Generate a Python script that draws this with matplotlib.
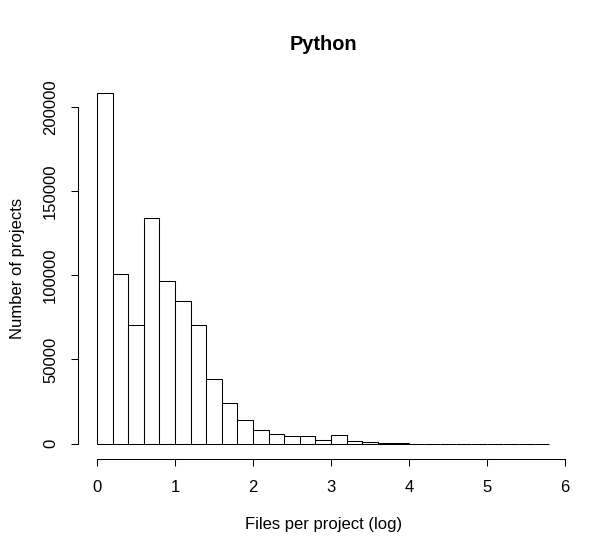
import matplotlib
matplotlib.use("Agg")
import matplotlib.pyplot as plt
import numpy as np

bin_edges = [round(0.2 * i, 1) for i in range(30)]
counts = [208300, 100700, 70500, 133800, 96600, 84900, 70300, 38500, 24300,
          13900, 8200, 5800, 4700, 4700, 2400, 4900, 1400, 700, 300, 150,
          80, 50, 30, 20, 15, 10, 8, 5, 3]
xticks = [0, 1, 2, 3, 4, 5, 6]
yticks = [0, 50000, 100000, 150000, 200000]

plt.rcParams['font.family'] = ['Liberation Sans', 'DejaVu Sans']

fig = plt.figure(figsize=(6.08, 5.57), dpi=100)
ax = fig.add_axes([0.1298, 0.1783, 0.9334 - 0.1298, 0.8587 - 0.1783])

left = np.array(bin_edges[:-1])
widths = np.diff(bin_edges)
ax.bar(left, counts, width=widths, align='edge', facecolor='white',
       edgecolor='black', linewidth=0.75)

xr = bin_edges[-1] - bin_edges[0]
ax.set_xlim(bin_edges[0] - 0.04 * xr, bin_edges[-1] + 0.04 * xr)
ym = max(counts)
ax.set_ylim(-0.04 * ym, ym * 1.04)

for s in ['top', 'right']:
    ax.spines[s].set_visible(False)
ax.spines['left'].set_bounds(yticks[0], yticks[-1])
ax.spines['bottom'].set_bounds(xticks[0], xticks[-1])
ax.spines['left'].set_position(('outward', 1))
ax.spines['bottom'].set_position(('outward', 1))
for s in ['left', 'bottom']:
    ax.spines[s].set_linewidth(0.75)

ax.set_xticks(xticks)
ax.set_xticklabels([str(t) for t in xticks])
ax.set_yticks(yticks)
ax.set_yticklabels([str(t) for t in yticks], rotation=90, va='center')
ax.tick_params(axis='x', direction='out', length=5, width=0.75,
               labelsize=12, pad=10)
ax.tick_params(axis='y', direction='out', length=5, width=0.75,
               labelsize=12, pad=9)

ax.set_xlabel('Files per project (log)', fontsize=12, labelpad=16)
ax.set_ylabel('Number of projects', fontsize=12, labelpad=13)
ax.set_title('Python', fontsize=14.4, fontweight='bold', pad=21)

fig.savefig('out.png', dpi=100)
